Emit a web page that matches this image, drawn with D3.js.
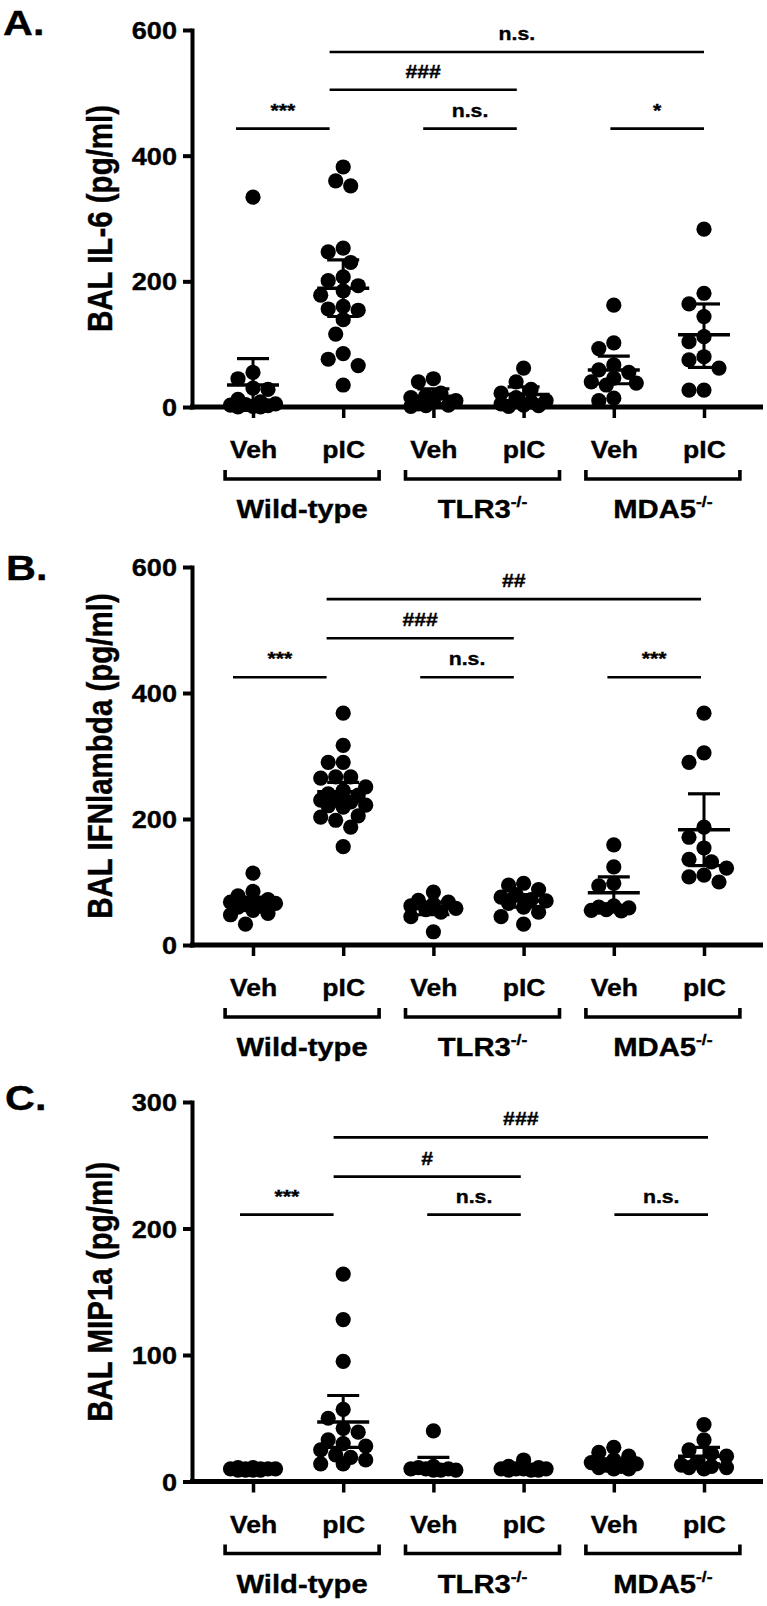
<!DOCTYPE html>
<html><head><meta charset="utf-8">
<script src="https://cdn.jsdelivr.net/npm/d3@7"></script>
<style>
body{margin:0;background:#fff}
text{font-family:"Liberation Sans",Arial,Helvetica,sans-serif;font-weight:bold;fill:#000;stroke:#000;stroke-width:0.35px}
</style></head>
<body><svg id="c" width="767" height="1606"></svg>
<script>
// ---------- data ----------
const treatments = ["Veh","pIC","Veh","pIC","Veh","pIC"];
const genotypes = ["Wild-type","TLR3","MDA5"];
const genotypeSup = ["","-/-","-/-"];

const il6Ticks = [0,200,400,600];
const il6Values = [
  [334,55,45,30,28,12,8,5,4,3,2,1,0,0],
  [382,360,352,253,247,230,207,201,193,185,178,160,156,154,139,116,85,76,66,35],
  [45,40,22,18,15,10,8,5,3,2,1],
  [62,40,28,22,15,10,8,5,3,2,1],
  [162,102,93,67,59,55,46,40,38,35,14,10],
  [283,181,164,144,112,104,80,75,62,27,27]
];
const il6Mean  = [35,189,17,20,59,115];
const il6Lower = [-5,144,5,8,37,63];
const il6Upper = [77,234,29,32,81,164];
const il6Sig = [[1,5,565,"n.s."],[1,3,505,"###"],[0,1,443,"***"],[2,3,443,"n.s."],[4,5,443,"*"]];

const ifnTicks = [0,200,400,600];
const ifnValues = [
  [114,85,78,72,70,68,66,64,62,60,55,50,48,33],
  [368,317,290,290,267,267,265,251,245,240,238,230,230,227,222,221,219,205,203,198,187,156],
  [84,71,68,65,62,58,56,52,45,21],
  [98,95,88,80,76,72,70,66,60,52,45,33],
  [159,124,98,94,62,60,59,56,55,54],
  [368,305,290,187,171,154,136,132,122,111,108,100]
];
const ifnMean  = [66,243,58,70,83,183];
const ifnLower = [56,227,48,60,58,126];
const ifnUpper = [76,258,68,80,108,240];
const ifnSig = [[1,5,549,"##"],[1,3,487,"###"],[0,1,425,"***"],[2,3,425,"n.s."],[4,5,425,"***"]];

const mipTicks = [0,100,200,300];
const mipValues = [
  [11,11,10,10,10,10,10,10,9,9,9,9],
  [164,128,95,57,50,42,39,33,30,28,25,21,19,17,14,14],
  [40,12,11,10,10,10,9,9,9],
  [17,12,11,10,10,10,10,9,9,9],
  [27,23,20,17,15,14,13,12,11,10,10],
  [45,33,25,22,20,15,13,12,11,11,10]
];
const mipMean  = [10,47,13,11,15,20];
const mipLower = [9,27,7,9,12,14];
const mipUpper = [11,68,19,13,18,27];
const mipSig = [[1,5,272,"###"],[1,3,241,"#"],[0,1,211,"***"],[2,3,211,"n.s."],[4,5,211,"n.s."]];

// ---------- layout ----------
const panels = [
  {letter:"A", title:"BAL IL-6 (pg/ml)", max:600, ticks:il6Ticks, values:il6Values, mean:il6Mean, lo:il6Lower, hi:il6Upper, sig:il6Sig,
   top:30, bottom:407, letterX:3, letterY:35, sigShift:0},
  {letter:"B", title:"BAL IFNlambda (pg/ml)", max:600, ticks:ifnTicks, values:ifnValues, mean:ifnMean, lo:ifnLower, hi:ifnUpper, sig:ifnSig,
   top:567, bottom:945, letterX:6, letterY:580, sigShift:-3},
  {letter:"C", title:"BAL MIP1a (pg/ml)", max:300, ticks:mipTicks, values:mipValues, mean:mipMean, lo:mipLower, hi:mipUpper, sig:mipSig,
   top:1102, bottom:1481.5, letterX:5, letterY:1110, sigShift:4}
];

const svg = d3.select("#c");
const x = d3.scalePoint().domain(d3.range(6)).range([253,704]);
const R = 7.6;
const AXIS_X = 192;

function stext(g, px, py, str, size, anchor, sx){
  return g.append("text")
    .attr("transform", `translate(${px},${py}) scale(${sx},1)`)
    .attr("text-anchor", anchor)
    .style("font-size", size + "px")
    .text(str);
}

function swarm(vals, y, cx){
  const offs = [0,-7.5,7.5,-15,15,-22.5,22.5];
  const placed = [];
  vals.slice().sort((a,b)=>b-a).forEach(v=>{
    const py = y(v);
    let best = 0, bestD = -1;
    for (const o of offs){
      let md = Infinity;
      for (const q of placed){
        const d = Math.hypot(q.x-(cx+o), q.y-py);
        if (d < md) md = d;
      }
      if (md >= 2*R - 0.6){ best = o; bestD = md; break; }
      if (md > bestD + 0.01){ bestD = md; best = o; }
    }
    placed.push({x: cx + best, y: py});
  });
  return placed;
}

panels.forEach(p=>{
  const g = svg.append("g");
  const y = d3.scaleLinear().domain([0,p.max]).range([p.bottom,p.top]);
  const xs = d3.scalePoint().domain(d3.range(6)).range([236+p.sigShift, 704+p.sigShift]);

  // significance lines
  p.sig.forEach(([a,b,v,lab])=>{
    g.append("line").attr("x1",xs(a)).attr("x2",xs(b)).attr("y1",y(v)).attr("y2",y(v))
      .attr("stroke","#000").attr("stroke-width",2.6);
    stext(g,(xs(a)+xs(b))/2, y(v)-12, lab, 18.5, "middle", 1.15);
  });

  // points
  p.values.forEach((vals,i)=>{
    const pts = swarm(vals, y, x(i));
    g.append("g").selectAll("circle").data(pts).join("circle")
      .attr("cx",d=>d.x).attr("cy",d=>d.y).attr("r",R).attr("fill","#000");
  });

  // mean and error bars
  p.values.forEach((vals,i)=>{
    const cx = x(i);
    const eg = g.append("g").attr("stroke","#000");
    eg.append("line").attr("x1",cx).attr("x2",cx).attr("y1",y(p.lo[i])).attr("y2",y(p.hi[i])).attr("stroke-width",3);
    eg.append("line").attr("x1",cx-16).attr("x2",cx+16).attr("y1",y(p.hi[i])).attr("y2",y(p.hi[i])).attr("stroke-width",3.2);
    eg.append("line").attr("x1",cx-16).attr("x2",cx+16).attr("y1",y(p.lo[i])).attr("y2",y(p.lo[i])).attr("stroke-width",3.2);
    eg.append("line").attr("x1",cx-26).attr("x2",cx+26).attr("y1",y(p.mean[i])).attr("y2",y(p.mean[i])).attr("stroke-width",3.6);
  });

  // x axis line
  g.append("line").attr("x1",AXIS_X-2).attr("x2",763).attr("y1",p.bottom).attr("y2",p.bottom)
    .attr("stroke","#000").attr("stroke-width",5);

  // y axis
  const ya = g.append("g").attr("transform",`translate(${AXIS_X},0)`)
    .call(d3.axisLeft(y).tickValues(p.ticks).tickSize(9).tickSizeOuter(0).tickFormat(d3.format("d")));
  ya.select(".domain").attr("stroke","#000").attr("stroke-width",4).attr("stroke-linecap","square");
  ya.selectAll(".tick line").attr("stroke","#000").attr("stroke-width",4);
  ya.selectAll(".tick text").attr("x",null).attr("dy",null)
    .attr("transform","translate(-15,8.6) scale(1.13,1)").style("font-size","24px");

  // x axis ticks + treatment labels
  const xa = g.append("g").attr("transform",`translate(0,${p.bottom})`)
    .call(d3.axisBottom(x).tickSize(11).tickFormat(i=>treatments[i]));
  xa.select(".domain").remove();
  xa.selectAll(".tick line").attr("stroke","#000").attr("stroke-width",3.5);
  xa.selectAll(".tick text").attr("y",null).attr("dy",null)
    .attr("transform","translate(0,51) scale(1.13,1)").style("font-size","23.5px");

  // genotype brackets and labels
  genotypes.forEach((name,k)=>{
    const mid = (x(2*k)+x(2*k+1))/2 + 4;
    const b = p.bottom;
    g.append("path")
      .attr("d",`M${mid-77},${b+63}V${b+72}H${mid+77}V${b+63}`)
      .attr("fill","none").attr("stroke","#000").attr("stroke-width",3.6);
    const t = g.append("text")
      .attr("transform",`translate(${mid},${b+111}) scale(1.17,1)`)
      .attr("text-anchor","middle").style("font-size","25px");
    t.append("tspan").text(name);
    if (genotypeSup[k]) t.append("tspan").attr("dy",-11).style("font-size","15px").text(genotypeSup[k]);
  });

  // y title
  g.append("text")
    .attr("transform",`translate(112,${(p.top+p.bottom)/2}) rotate(-90) scale(1,1.2)`)
    .attr("text-anchor","middle").style("font-size","29.5px").text(p.title);

  // panel letter
  stext(svg, p.letterX, p.letterY, p.letter + ".", 36, "start", 1.15);
});
</script></body></html>
